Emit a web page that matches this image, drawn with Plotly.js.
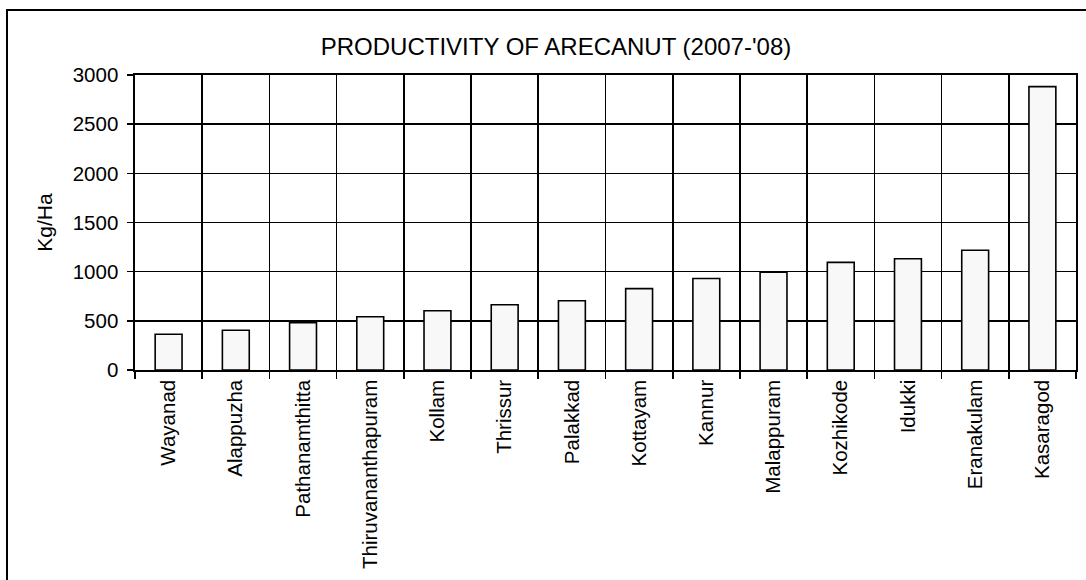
<!DOCTYPE html>
<html>
<head>
<meta charset="utf-8">
<script src="https://cdn.plot.ly/plotly-3.0.1.min.js"></script>
<style>
  html, body { margin: 0; padding: 0; background: #fff; }
  #chart { width: 1086px; height: 580px; position: relative; }
  #frame { position: absolute; left: 6px; top: 9px; width: 1200px; height: 700px;
           border-top: 2px solid #000; border-left: 2px solid #000; pointer-events: none; }
</style>
</head>
<body>
<div id="chart"></div>
<div id="frame"></div>
<script>
const districts = ["Wayanad", "Alappuzha", "Pathanamthitta", "Thiruvananthapuram", "Kollam",
  "Thrissur", "Palakkad", "Kottayam", "Kannur", "Malappuram", "Kozhikode", "Idukki",
  "Eranakulam", "Kasaragod"];
const productivity = [363, 404, 481, 542, 603, 664, 705, 828, 930, 995, 1095, 1132, 1218, 2882];
const yTicks = [0, 500, 1000, 1500, 2000, 2500, 3000];

const font = "Liberation Sans, Arial, sans-serif";

Plotly.newPlot("chart", [{
  type: "bar",
  x: districts,
  y: productivity,
  width: 0.4,
  marker: { color: "#f8f8f8", line: { color: "#000", width: 1.6 } },
  hoverinfo: "x+y"
}], {
  width: 1086, height: 580,
  margin: { l: 135, r: 10, t: 75, b: 210 },
  paper_bgcolor: "#fff", plot_bgcolor: "#fff",
  showlegend: false,
  font: { family: font, color: "#000", size: 20 },
  title: {
    text: "PRODUCTIVITY OF ARECANUT (2007-'08)",
    font: { family: font, size: 24, color: "#000" },
    x: 556 / 1086, xref: "container", xanchor: "center",
    y: 1 - 47 / 580, yref: "container", yanchor: "middle"
  },
  xaxis: {
    type: "category",
    tickson: "boundaries",
    ticks: "outside", ticklen: 7, tickwidth: 1.6, tickcolor: "#000",
    showgrid: true, gridcolor: "#000", gridwidth: 1.6,
    showline: true, linecolor: "#000", linewidth: 1.6, mirror: true,
    tickangle: -90,
    tickfont: { family: font, size: 20.5, color: "#000" },
    automargin: false, fixedrange: true
  },
  yaxis: {
    range: [0, 3000],
    tickvals: yTicks,
    ticks: "outside", ticklen: 6, tickwidth: 1.6, tickcolor: "#000",
    ticklabelstandoff: 5,
    showgrid: true, gridcolor: "#000", gridwidth: 1.6,
    showline: true, linecolor: "#000", linewidth: 1.6, mirror: true,
    zeroline: false,
    tickfont: { family: font, size: 20.5, color: "#000" },
    title: { text: "Kg/Ha", font: { family: font, size: 21, color: "#000" }, standoff: 14 },
    automargin: false, fixedrange: true
  }
}, { displayModeBar: false, staticPlot: true });
</script>
</body>
</html>
